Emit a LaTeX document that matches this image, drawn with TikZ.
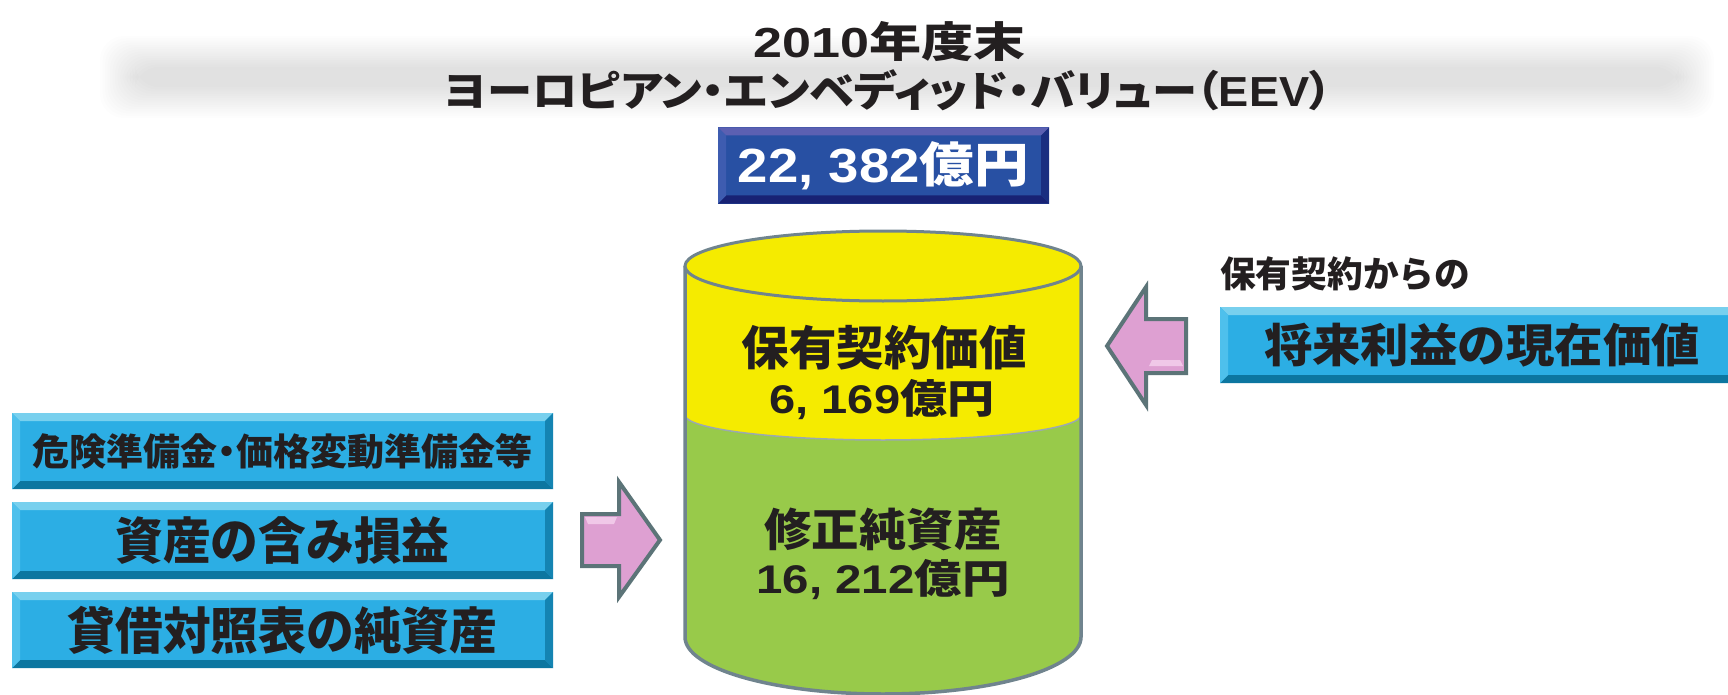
\documentclass[tikz,border=0pt]{standalone}
\usepackage{fontspec}
\usepackage{graphicx}
\setmainfont{Noto Sans CJK JP}
\newfontfamily\jpp{Noto Sans CJK JP}[RawFeature=+palt]
\newfontfamily\lat{Liberation Sans}
\definecolor{cyanM}{RGB}{44,174,228}
\definecolor{cyanT}{RGB}{120,208,238}
\definecolor{cyanB}{RGB}{12,118,160}
\definecolor{cyanL}{RGB}{78,192,236}
\definecolor{cyanR}{RGB}{20,132,178}
\definecolor{navyM}{RGB}{40,80,163}
\definecolor{navyT}{RGB}{92,96,178}
\definecolor{navyB}{RGB}{24,34,116}
\definecolor{navyL}{RGB}{62,92,176}
\definecolor{navyR}{RGB}{26,46,128}
\definecolor{yel}{RGB}{245,235,0}
\definecolor{grn}{RGB}{152,202,74}
\definecolor{cylE}{RGB}{112,132,142}
\definecolor{pinkA}{RGB}{222,160,210}
\definecolor{pinkL}{RGB}{240,200,232}
\definecolor{edgeG}{RGB}{92,116,120}
\definecolor{ink}{RGB}{35,31,32}
\newcommand\fitto[3]{\resizebox{#1pt}{\height}{\fontsize{#2pt}{#2pt}\selectfont\bfseries #3}}
\newcommand\bevel[4]{%
  \path (path picture bounding box.north west) coordinate (pa)
        (path picture bounding box.north east) coordinate (pb)
        (path picture bounding box.south east) coordinate (pc)
        (path picture bounding box.south west) coordinate (pd);
  \fill[#1] (pa) -- (pb) -- ([shift={(-8pt,-8pt)}]pb) -- ([shift={(8pt,-8pt)}]pa) -- cycle;
  \fill[#2] (pd) -- (pc) -- ([shift={(-8pt,8pt)}]pc) -- ([shift={(8pt,8pt)}]pd) -- cycle;
  \fill[#3] (pa) -- (pd) -- ([shift={(8pt,8pt)}]pd) -- ([shift={(8pt,-8pt)}]pa) -- cycle;
  \fill[#4] (pb) -- (pc) -- ([shift={(-8pt,8pt)}]pc) -- ([shift={(-8pt,-8pt)}]pb) -- cycle;
}
\begin{document}
\begin{tikzpicture}[x=1pt,y=-1pt,
  txt/.style={inner sep=0pt, text=ink},
  cyanbox/.style={inner sep=0pt, fill=cyanM, text=ink, path picture={\bevel{cyanT}{cyanB}{cyanL}{cyanR}}},
  navybox/.style={inner sep=0pt, fill=navyM, text=white, path picture={\bevel{navyT}{navyB}{navyL}{navyR}}},
  blockarrow/.style={fill=pinkA, draw=edgeG, line width=4pt, line join=miter},
  cyledge/.style={draw=cylE, line width=3.5pt}]
\useasboundingbox (0,0) rectangle (1728,695);
\clip (0,0) rectangle (1728,695);
\fill[white] (0,0) rectangle (1728,695);
% soft gray title band
\foreach \i in {0,...,14}
  \fill[black, opacity=0.006, rounded corners=24pt] (100+\i*2.5,36+\i*2.2) rectangle (1714-\i*2.5,118-\i*2.2);
% title
\node[txt] (t1) at (890,42) {\fitto{272}{42}{{\lat 2010}年度末}};
\node[txt] (t2) at (888,90) {\fitto{888}{42}{\jpp ヨーロピアン・エンベディッド・バリュー（{\lat EEV}）}};
% total
\node[navybox, minimum width=331pt, minimum height=76pt] (tot) at (883.5,165.5) {\fitto{291}{48}{{\lat 22, 382}億円}};
% cylinder
\fill[grn] (685,415) -- (685,637) arc[start angle=180, end angle=360, x radius=198pt, y radius=57pt] -- (1081,415) arc[start angle=0, end angle=-180, x radius=198pt, y radius=25pt] -- cycle;
\fill[yel] (685,266) -- (685,415) arc[start angle=180, end angle=360, x radius=198pt, y radius=25pt] -- (1081,266) arc[start angle=0, end angle=180, x radius=198pt, y radius=35pt] -- cycle;
\draw[cylE!70, line width=1.5pt] (685,415) arc[start angle=180, end angle=360, x radius=198pt, y radius=25pt];
\draw[cyledge] (685,266) -- (685,637) arc[start angle=180, end angle=360, x radius=198pt, y radius=57pt] -- (1081,266);
\draw[cyledge, line width=3pt, fill=yel] (883,266) ellipse [x radius=198pt, y radius=35pt];
\node[txt] (c1) at (884,348) {\fitto{285}{47}{保有契約価値}};
\node[txt] (c2) at (882,400) {\fitto{225}{40}{{\lat 6, 169}億円}};
\node[txt] (c3) at (883,529) {\fitto{237}{45}{修正純資産}};
\node[txt] (c4) at (883,580) {\fitto{253}{40}{{\lat 16, 212}億円}};
% left boxes
\node[cyanbox, minimum width=541pt, minimum height=76pt] (b1) at (282.5,451) {\fitto{500}{37}{\jpp 危険準備金・価格変動準備金等}};
\node[cyanbox, minimum width=541pt, minimum height=77pt] (b2) at (282.5,540.5) {\fitto{334}{50}{資産の含み損益}};
\node[cyanbox, minimum width=541pt, minimum height=76pt] (b3) at (282.5,630) {\fitto{430}{50}{貸借対照表の純資産}};
% right side
\node[txt, anchor=west] (lab) at (1220,274) {\fitto{250}{36}{保有契約からの}};
\node[cyanbox, minimum width=524pt, minimum height=76pt] (rb) at (1482,345) {\fitto{436}{46}{将来利益の現在価値}};
% block arrows
\draw[blockarrow] (582,514) -- (619,514) -- (619,482) -- (660,540) -- (619,597) -- (619,566) -- (582,566) -- cycle;
\fill[pinkL] (585,517) -- (617,517) -- (614,524) -- (588,524) -- cycle;
\draw[blockarrow] (1186,319) -- (1146,319) -- (1146,287) -- (1107,346) -- (1146,405) -- (1146,373) -- (1186,373) -- cycle;
\fill[pinkL] (1183,366) -- (1149,366) -- (1152,360) -- (1180,360) -- cycle;
\end{tikzpicture}
\end{document}
